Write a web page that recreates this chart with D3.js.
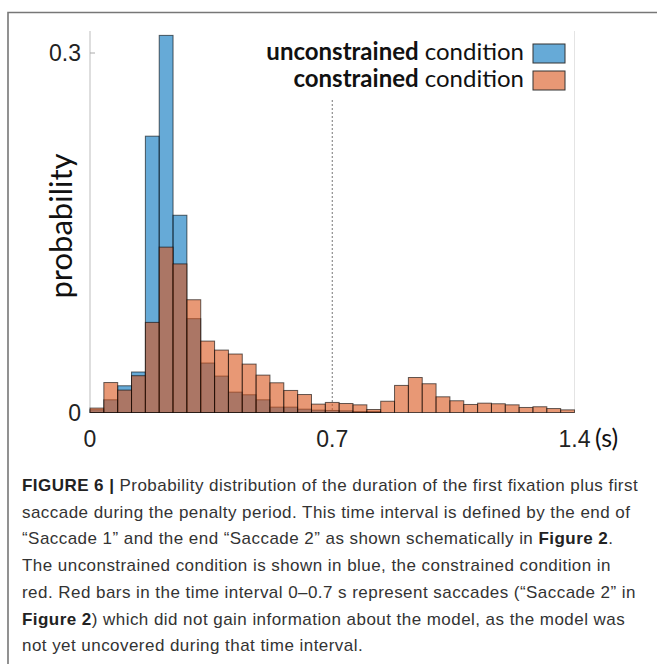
<!DOCTYPE html>
<html>
<head>
<meta charset="utf-8">
<script src="https://cdn.jsdelivr.net/npm/d3@7"></script>
<style>
  body { margin: 0; background: #fff; }
  svg { display: block; }
</style>
</head>
<body>
<div id="chart"></div>
<script>
// histogram data, bins of 0.04 s from 0 to 1.4 s
var binWidth = 0.04;
var unconstrained = [0.0023, 0.0106, 0.0223, 0.0338, 0.2306, 0.3147, 0.1646, 0.0783, 0.0413, 0.0304,
  0.0170, 0.0148, 0.0106, 0.0045, 0.0045, 0.0028, 0.0020, 0.0017, 0.0014, 0.0008,
  0.0008, 0, 0, 0, 0, 0, 0, 0, 0, 0, 0, 0, 0, 0, 0];
var constrained = [0.0037, 0.0250, 0.0187, 0.0307, 0.0752, 0.1380, 0.1240, 0.0941, 0.0596, 0.0521,
  0.0488, 0.0404, 0.0312, 0.0248, 0.0184, 0.0150, 0.0070, 0.0084, 0.0075, 0.0064,
  0.0025, 0.0094, 0.0226, 0.0292, 0.0240, 0.0131, 0.0098, 0.0067, 0.0078, 0.0073,
  0.0064, 0.0042, 0.0048, 0.0033, 0.0022];
var xTicks = [0, 0.7, 1.4];
var yTicks = [0, 0.3];
var legendItems = [
  {bold: 'unconstrained', rest: ' condition', color: 'rgb(0,114,189)'},
  {bold: 'constrained', rest: ' condition', color: 'rgb(217,83,25)'}
];
var caption = [
  [{b: 'FIGURE 6 |'}, {t: ' Probability distribution of the duration of the first fixation plus first'}],
  [{t: 'saccade during the penalty period. This time interval is defined by the end of'}],
  [{t: '\u201CSaccade 1\u201D and the end \u201CSaccade 2\u201D as shown schematically in '}, {b: 'Figure 2'}, {t: '.'}],
  [{t: 'The unconstrained condition is shown in blue, the constrained condition in'}],
  [{t: 'red. Red bars in the time interval 0\u20130.7 s represent saccades (\u201CSaccade 2\u201D in'}],
  [{b: 'Figure 2'}, {t: ') which did not gain information about the model, as the model was'}],
  [{t: 'not yet uncovered during that time interval.'}]
];

var W = 657, H = 664;
var svg = d3.select('#chart').append('svg')
  .attr('width', W).attr('height', H);

// outer frame (only top and left visible)
svg.append('path')
  .attr('d', 'M8,' + H + 'V12.5H' + W)
  .attr('fill', 'none')
  .attr('stroke', '#777')
  .attr('stroke-width', 1.6);

var x = d3.scaleLinear().domain([0, 1.4]).range([90, 574.5]);
var y = d3.scaleLinear().domain([0, 0.3]).range([412.5, 53]);

// axis box lines
var axisCol = '#c8c8c8';
svg.append('line').attr('x1', 90).attr('x2', 90).attr('y1', 31).attr('y2', y(0))
  .attr('stroke', axisCol).attr('stroke-width', 1.2);
svg.append('line').attr('x1', x(1.4)).attr('x2', x(1.4)).attr('y1', 31).attr('y2', y(0))
  .attr('stroke', '#e4e4e4').attr('stroke-width', 1);
svg.append('line').attr('x1', 90).attr('x2', x(1.4)).attr('y1', y(0)).attr('y2', y(0))
  .attr('stroke', axisCol).attr('stroke-width', 1.2);

// y ticks
svg.selectAll('.ytick').data(yTicks).enter().append('line')
  .attr('x1', 90).attr('x2', 95)
  .attr('y1', function(d){return y(d);}).attr('y2', function(d){return y(d);})
  .attr('stroke', '#aaa');

// dotted line at 0.7 s
svg.append('line')
  .attr('x1', x(0.7)).attr('x2', x(0.7))
  .attr('y1', 100).attr('y2', y(0))
  .attr('stroke', '#777').attr('stroke-width', 1)
  .attr('stroke-dasharray', '2,2');

function drawBars(vals, color, cls){
  svg.selectAll('.' + cls).data(vals).enter().append('rect')
    .attr('class', cls)
    .attr('x', function(d, i){return x(i * binWidth);})
    .attr('width', function(d, i){return x((i + 1) * binWidth) - x(i * binWidth);})
    .attr('y', function(d){return y(d);})
    .attr('height', function(d){return y(0) - y(d);})
    .attr('fill', color)
    .attr('fill-opacity', 0.6)
    .attr('stroke', '#000')
    .attr('stroke-opacity', 0.6)
    .attr('stroke-width', 1);
}
drawBars(unconstrained, legendItems[0].color, 'ubar');
drawBars(constrained, legendItems[1].color, 'cbar');

// tick labels
var numFont = '"Liberation Sans", Arial, sans-serif';
svg.selectAll('.ylab').data(yTicks).enter().append('text')
  .attr('x', 81).attr('y', function(d){return y(d) + 8;})
  .attr('text-anchor', 'end')
  .attr('font-family', numFont).attr('font-size', 23).attr('fill', '#222')
  .text(function(d){return d;});
svg.selectAll('.xlab').data(xTicks).enter().append('text')
  .attr('x', function(d){return x(d);}).attr('y', 447)
  .attr('text-anchor', 'middle')
  .attr('font-family', numFont).attr('font-size', 23).attr('fill', '#222')
  .text(function(d){return d;});
svg.append('text')
  .attr('x', 595).attr('y', 447)
  .attr('font-family', 'Lato, sans-serif').attr('font-size', 25).attr('fill', '#111')
  .text('(s)');

// y axis title
svg.append('text')
  .attr('transform', 'translate(72,226) rotate(-90)')
  .attr('text-anchor', 'middle')
  .attr('font-family', 'Lato, sans-serif').attr('font-size', 31).attr('fill', '#111')
  .text('probability');

// legend
var leg = svg.selectAll('.leg').data(legendItems).enter().append('g')
  .attr('transform', function(d, i){return 'translate(0,' + (i * 27) + ')';});
leg.append('text')
  .attr('x', 524).attr('y', 60)
  .attr('text-anchor', 'end')
  .attr('font-family', 'Lato, sans-serif').attr('font-size', 24).attr('fill', '#111')
  .each(function(d){
    var t = d3.select(this);
    t.append('tspan').attr('font-weight', 'bold').text(d.bold);
    t.append('tspan').text(d.rest);
  });
leg.append('rect')
  .attr('x', 533).attr('y', 44).attr('width', 32).attr('height', 19)
  .attr('fill', function(d){return d.color;}).attr('fill-opacity', 0.6)
  .attr('stroke', '#333').attr('stroke-width', 1);

// caption
var cap = svg.append('g');
caption.forEach(function(line, i){
  var t = cap.append('text')
    .attr('x', 22).attr('y', 491 + i * 26.7)
    .attr('font-family', '"Liberation Sans", Arial, sans-serif')
    .attr('font-size', 17).attr('letter-spacing', 0.45).attr('fill', '#333');
  line.forEach(function(seg){
    if (seg.b) t.append('tspan').attr('font-weight', 'bold').attr('fill', '#222').text(seg.b);
    else t.append('tspan').text(seg.t);
  });
});
</script>
</body>
</html>
